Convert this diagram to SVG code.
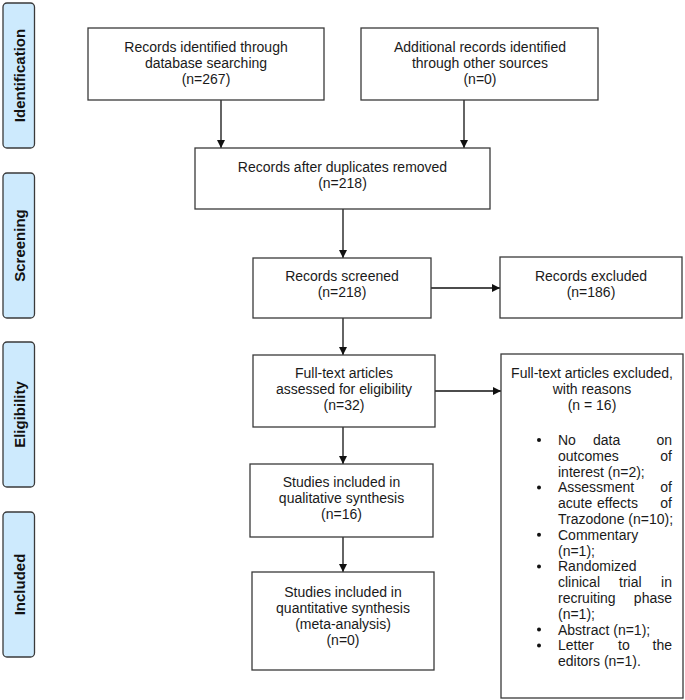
<svg xmlns="http://www.w3.org/2000/svg" width="685" height="700" viewBox="0 0 685 700">
<defs>
<style>
.box{fill:#fff;stroke:#3a3a3a;stroke-width:1.3}
.phase{fill:#cdeafd;stroke:#3a3a3a;stroke-width:1.3}
.t{font-family:"Liberation Sans",Arial,sans-serif;font-size:14px;fill:#1a1a1a}
.c{text-anchor:middle}
.e{text-anchor:end}
.pt{font-family:"Liberation Sans",Arial,sans-serif;font-size:15px;font-weight:bold;fill:#111;text-anchor:middle}
.ln{stroke:#111;stroke-width:1.3;fill:none;marker-end:url(#ah)}
</style>
<marker id="ah" viewBox="0 0 10 10" refX="10" refY="5" markerWidth="8" markerHeight="8" markerUnits="userSpaceOnUse" orient="auto">
<path d="M0,0 L10,5 L0,10 z" fill="#111"/>
</marker>
</defs>
<rect width="685" height="700" fill="#fff"/>

<g id="phase-identification">
<rect class="phase" x="3" y="3" width="31.5" height="145" rx="4"/>
<text class="pt" transform="translate(24.5,75.5) rotate(-90)">Identification</text>
</g>
<g id="phase-screening">
<rect class="phase" x="3" y="173" width="31.5" height="145" rx="4"/>
<text class="pt" transform="translate(24.5,245.5) rotate(-90)">Screening</text>
</g>
<g id="phase-eligibility">
<rect class="phase" x="3" y="342" width="31.5" height="145" rx="4"/>
<text class="pt" transform="translate(24.5,414.5) rotate(-90)">Eligibility</text>
</g>
<g id="phase-included">
<rect class="phase" x="3" y="512" width="31.5" height="145" rx="4"/>
<text class="pt" transform="translate(24.5,584.5) rotate(-90)">Included</text>
</g>

<g id="connectors">
<line class="ln" x1="221" y1="100" x2="221" y2="148"/>
<line class="ln" x1="464" y1="100" x2="464" y2="148"/>
<line class="ln" x1="343" y1="209" x2="343" y2="258"/>
<line class="ln" x1="431" y1="288" x2="500" y2="288"/>
<line class="ln" x1="343" y1="318" x2="343" y2="355"/>
<line class="ln" x1="435" y1="391" x2="501" y2="391"/>
<line class="ln" x1="343" y1="427" x2="343" y2="464"/>
<line class="ln" x1="343" y1="537" x2="343" y2="572"/>
</g>

<g id="n-database">
<rect class="box" x="88" y="28" width="236" height="72"/>
<text class="t c" x="206" y="52">Records identified through</text>
<text class="t c" x="206" y="68">database searching</text>
<text class="t c" x="206" y="84">(n=267)</text>
</g>
<g id="n-other">
<rect class="box" x="361" y="28" width="237" height="72"/>
<text class="t c" x="480" y="52">Additional records identified</text>
<text class="t c" x="480" y="68">through other sources</text>
<text class="t c" x="480" y="84">(n=0)</text>
</g>
<g id="n-dedup">
<rect class="box" x="195" y="148" width="295" height="61"/>
<text class="t c" x="342.5" y="172">Records after duplicates removed</text>
<text class="t c" x="342.5" y="188">(n=218)</text>
</g>
<g id="n-screened">
<rect class="box" x="253" y="258" width="178" height="60"/>
<text class="t c" x="342" y="281">Records screened</text>
<text class="t c" x="342" y="297">(n=218)</text>
</g>
<g id="n-excluded">
<rect class="box" x="500" y="257" width="182" height="61"/>
<text class="t c" x="591" y="281">Records excluded</text>
<text class="t c" x="591" y="297">(n=186)</text>
</g>
<g id="n-fulltext">
<rect class="box" x="253" y="355" width="182" height="72"/>
<text class="t c" x="344" y="378">Full-text articles</text>
<text class="t c" x="344" y="394">assessed for eligibility</text>
<text class="t c" x="344" y="410">(n=32)</text>
</g>
<g id="n-qualitative">
<rect class="box" x="250" y="464" width="183" height="73"/>
<text class="t c" x="341.5" y="487">Studies included in</text>
<text class="t c" x="341.5" y="503">qualitative synthesis</text>
<text class="t c" x="341.5" y="519">(n=16)</text>
</g>
<g id="n-quantitative">
<rect class="box" x="252" y="572" width="182" height="98"/>
<text class="t c" x="343" y="597">Studies included in</text>
<text class="t c" x="343" y="613">quantitative synthesis</text>
<text class="t c" x="343" y="629">(meta-analysis)</text>
<text class="t c" x="343" y="645">(n=0)</text>
</g>
<g id="n-fulltext-excluded">
<rect class="box" x="501" y="354" width="182" height="344"/>
<text class="t c" x="592" y="378">Full-text articles excluded,</text>
<text class="t c" x="592" y="394">with reasons</text>
<text class="t c" x="592" y="410">(n = 16)</text>
<g fill="#111">
<circle cx="539" cy="440" r="2"/>
<circle cx="539" cy="487.4" r="2"/>
<circle cx="539" cy="534.8" r="2"/>
<circle cx="539" cy="566.4" r="2"/>
<circle cx="539" cy="629.6" r="2"/>
<circle cx="539" cy="645.4" r="2"/>
</g>
<text class="t" x="558" y="445">No</text><text class="t" x="593" y="445">data</text><text class="t e" x="672" y="445">on</text>
<text class="t" x="558" y="460.8">outcomes</text><text class="t e" x="672" y="460.8">of</text>
<text class="t" x="558" y="476.6">interest (n=2);</text>
<text class="t" x="558" y="492.4">Assessment</text><text class="t e" x="672" y="492.4">of</text>
<text class="t" x="558" y="508.2">acute</text><text class="t" x="597" y="508.2">effects</text><text class="t e" x="672" y="508.2">of</text>
<text class="t" x="558" y="524">Trazodone (n=10);</text>
<text class="t" x="558" y="539.8">Commentary</text>
<text class="t" x="558" y="555.6">(n=1);</text>
<text class="t" x="558" y="571.4">Randomized</text>
<text class="t" x="558" y="587.2">clinical</text><text class="t" x="619" y="587.2">trial</text><text class="t e" x="672" y="587.2">in</text>
<text class="t" x="558" y="603">recruiting</text><text class="t e" x="672" y="603">phase</text>
<text class="t" x="558" y="618.8">(n=1);</text>
<text class="t" x="558" y="634.6">Abstract (n=1);</text>
<text class="t" x="558" y="650.4">Letter</text><text class="t" x="618" y="650.4">to</text><text class="t e" x="672" y="650.4">the</text>
<text class="t" x="558" y="666.2">editors (n=1).</text>
</g>
</svg>
